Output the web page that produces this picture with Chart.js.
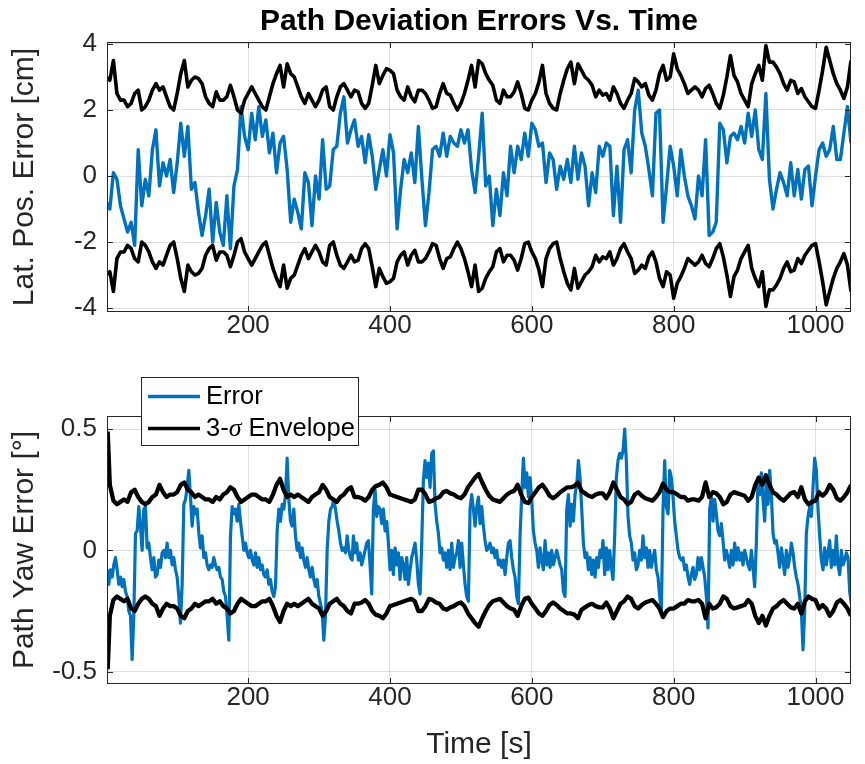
<!DOCTYPE html>
<html><head><meta charset="utf-8">
<script src="https://cdn.jsdelivr.net/npm/chart.js@4/dist/chart.umd.min.js"></script>
<style>
html,body{margin:0;padding:0;background:#fff;}
#wrap{position:relative;width:865px;height:764px;overflow:hidden;}
canvas{position:absolute;left:0;}
#c1{top:0;}
#c2{top:340px;}
</style></head><body>
<div id="wrap"><canvas id="c1" width="865" height="340"></canvas><canvas id="c2" width="865" height="424"></canvas></div>
<script>
// sampling grid of the time axis [s] (lateral error and both envelopes)
const time = [2];
for (let s = 5; s <= 1050; s += 5) time.push(s);

const xTicks = [200, 400, 600, 800, 1000];
const latTicks = [-4, -2, 0, 2, 4];
const yawTicks = [-0.5, 0, 0.5];

// Lateral position error [cm]
const latError = [-0.8,
 -1.0, 0.1, -0.1, -0.9, -1.3, -1.7, -1.4, -2.1, 0.8, -0.9,
 -0.1, -0.6, 0.8, 1.4, -0.3, 0.4, 0.0, 0.5, -0.5, 0.4,
 1.6, 0.6, 1.5, -0.4, -0.2, -1.1, -1.8, -1.2, -0.4, -2.0,
 -0.8, -1.7, -2.1, -0.6, -2.2, -0.3, 0.2, 2.1, 1.2, 0.8,
 1.9, 1.1, 2.1, 1.2, 1.7, 0.7, 1.3, 0.1, 1.0, 1.2,
 0.2, -1.4, -0.7, -1.1, -1.6, 0.1, -0.2, -1.5, 0.0, -0.7,
 1.1, -0.4, -0.3, 0.8, 0.9, 1.9, 2.4, 1.0, 1.4, 1.7,
 0.9, 1.2, 0.4, 1.25, 0.6, -0.4, 0.2, 0.8, 0.0, 1.25,
 0.7, -1.6, -0.4, 0.5, 0.1, 0.7, -0.2, 1.5, -0.1, -1.5,
 -0.5, 0.8, 0.9, 0.6, 1.3, 0.6, 1.2, 1.0, 0.9, 1.4,
 1.0, 1.4, 0.2, -0.5, 0.6, 1.9, -0.3, 0.0, -1.5, -0.4,
 -1.2, 0.1, -0.6, 0.9, 0.1, 0.9, 0.5, 1.3, 0.6, 1.6,
 1.4, 0.9, 1.0, -0.2, 0.7, 0.5, -0.4, 0.3, -0.1, 0.5,
 -0.2, 0.9, -0.1, 0.7, 0.3, -0.9, 0.1, -0.5, 0.9, 0.6,
 1.0, 0.9, -1.2, 0.3, -1.4, 0.8, 1.1, 0.1, 2.0, 2.6,
 1.3, 0.9, 0.2, -0.6, 1.9, 2.0, -1.4, -0.3, 0.9, 0.3,
 -0.6, 0.8, 0.0, -0.6, -0.9, -1.3, 0.0, -0.6, 1.1, -1.8,
 -1.7, -1.4, 1.6, 1.4, 0.4, 1.2, 1.3, 1.1, 1.5, 1.0,
 1.9, 1.2, 2.0, 0.8, 0.5, 2.5, -0.1, -1.0, -0.4, 0.1,
 -0.2, -0.6, 0.4, -0.6, 0.2, -0.7, 0.2, 0.3, -0.9, 0.0,
 0.8, 1.0, 0.6, 0.8, 1.5, 0.5, 0.5, 1.3, 2.1, 1.0];

// Lateral 3-sigma envelope (upper bound) [cm]
const latEnvelope = [3.0,
 2.9, 3.5, 2.5, 2.3, 2.3, 2.1, 2.2, 2.5, 2.6, 2.0,
 2.1, 2.3, 2.6, 2.8, 2.6, 2.7, 2.4, 2.1, 2.0, 2.5,
 3.1, 3.5, 2.7, 2.9, 3.0, 2.95, 2.8, 2.4, 2.2, 2.1,
 2.55, 2.3, 2.3, 2.4, 2.75, 2.4, 2.0, 1.9, 2.3, 2.5,
 2.7, 2.5, 2.3, 2.1, 2.0, 2.4, 2.8, 3.1, 3.35, 2.7,
 3.4, 3.1, 3.0, 2.7, 2.4, 2.2, 2.5, 2.3, 2.1, 2.3,
 2.6, 2.7, 2.1, 2.0, 2.4, 2.7, 2.8, 2.6, 2.4, 2.6,
 2.55, 2.2, 2.05, 2.2, 2.75, 3.35, 2.8, 3.05, 3.25, 3.2,
 3.1, 2.6, 2.4, 2.3, 2.7, 2.4, 2.25, 2.6, 2.6, 2.5,
 2.3, 2.05, 2.1, 2.5, 2.8, 2.5, 2.45, 2.2, 2.0, 2.2,
 2.5, 2.9, 3.35, 2.7, 3.5, 3.4, 3.1, 2.9, 2.75, 2.3,
 2.2, 2.6, 2.4, 2.4, 2.55, 2.85, 2.5, 2.05, 2.0, 2.3,
 2.5, 2.85, 3.35, 2.5, 2.2, 2.05, 2.0, 2.5, 2.9, 3.25,
 3.45, 2.8, 3.4, 3.2, 3.0, 2.9, 2.75, 2.4, 2.6, 2.45,
 2.5, 2.3, 2.7, 2.5, 2.2, 2.05, 2.3, 2.5, 2.95, 2.85,
 2.7, 2.8, 2.45, 2.3, 2.6, 3.1, 3.35, 2.9, 3.0, 3.7,
 3.25, 3.05, 2.8, 2.5, 2.6, 2.7, 2.6, 2.4, 2.65, 2.75,
 2.5, 2.2, 2.05, 2.45, 3.0, 3.65, 3.05, 2.85, 2.5, 2.3,
 2.1, 2.8, 3.1, 3.35, 2.9, 3.95, 3.45, 3.45, 3.3, 3.1,
 2.8, 2.6, 2.9, 2.85, 2.5, 2.65, 2.4, 2.25, 2.1, 2.05,
 2.6, 3.2, 3.9, 3.5, 3.1, 2.8, 2.6, 2.35, 2.7, 3.5];

// Path yaw error [deg], read in three stretches sampled every 2.35 s
const yawStep = 2.35;
const yawStarts = [1.2, 348.4, 698.0];
const yawError1 = [
 -0.08, -0.14, -0.08, -0.11, -0.06, -0.03, -0.08, -0.14, -0.11, -0.15,
 -0.12, -0.17, -0.19, -0.25, -0.27, -0.45, -0.27, 0.07, 0.08, 0.18,
 0.10, 0.00, 0.17, 0.18, 0.01, 0.03, -0.03, -0.08, -0.03, -0.11,
 -0.10, -0.04, -0.07, -0.01, 0.00, -0.03, 0.03, -0.03, 0.00, -0.06,
 -0.03, -0.08, -0.11, -0.19, -0.30, -0.14, 0.19, 0.21, 0.26, 0.33,
 0.22, 0.10, 0.18, 0.15, 0.17, 0.07, 0.01, 0.06, -0.03, -0.01,
 -0.06, -0.08, -0.06, -0.07, -0.03, -0.06, -0.08, -0.07, -0.11, -0.12,
 -0.17, -0.19, -0.27, -0.37, 0.06, 0.18, 0.15, 0.17, 0.12, 0.19,
 0.12, 0.06, 0.00, 0.03, -0.01, -0.03, 0.00, -0.04, -0.06, -0.01,
 -0.07, -0.03, -0.08, -0.06, -0.10, -0.11, -0.08, -0.14, -0.12, -0.17,
 -0.19, -0.15, 0.08, 0.17, 0.12, 0.19, 0.17, 0.23, 0.38, 0.21,
 0.12, 0.10, 0.17, 0.06, 0.00, 0.03, -0.03, 0.01, -0.04, -0.07,
 -0.03, -0.08, -0.11, -0.07, -0.12, -0.15, -0.12, -0.19, -0.22, -0.25,
 -0.37, -0.27, 0.00, 0.12, 0.17, 0.18, 0.21, 0.17, 0.12, 0.08,
 0.03, 0.00, 0.01, -0.01, 0.06, 0.00, -0.03, -0.04];
const yawError2 = [
 0.06, -0.01, 0.03, -0.04, -0.01, -0.06, -0.03, 0.00, 0.03, 0.04,
 -0.06, -0.18, 0.17, 0.25, 0.14, 0.18, 0.17, 0.11, 0.17, 0.08,
 0.12, 0.03, -0.08, 0.00, -0.10, 0.01, -0.06, -0.01, -0.12, -0.03,
 -0.06, -0.12, -0.03, -0.14, -0.08, -0.03, 0.00, 0.03, -0.04, -0.14,
 -0.18, 0.03, 0.29, 0.37, 0.30, 0.36, 0.26, 0.40, 0.41, 0.19,
 0.12, 0.07, -0.01, 0.01, -0.04, -0.01, -0.07, 0.00, -0.08, 0.03,
 -0.07, -0.03, -0.01, 0.04, -0.07, 0.03, -0.06, -0.14, -0.19, -0.21,
 0.17, 0.23, 0.17, 0.10, 0.18, 0.22, 0.11, 0.18, 0.10, 0.04,
 0.00, 0.01, 0.03, -0.01, 0.01, -0.03, 0.00, -0.06, -0.04, -0.07,
 -0.04, -0.10, -0.03, 0.03, 0.04, -0.03, -0.08, -0.11, -0.19, -0.22,
 0.06, 0.23, 0.38, 0.26, 0.32, 0.22, 0.30, 0.21, 0.08, 0.03,
 0.00, -0.07, 0.01, -0.04, -0.08, 0.04, -0.06, -0.01, -0.07, 0.00,
 -0.06, -0.03, 0.00, -0.03, -0.06, -0.08, -0.17, -0.19, 0.17, 0.23,
 0.10, 0.19, 0.12, 0.23, 0.27, 0.37, 0.30, 0.17, 0.03, -0.03,
 -0.01, -0.08, -0.03, -0.10, -0.04, -0.11, -0.03, -0.07, 0.00];
const yawError3 = [
 -0.03, 0.04, -0.10, 0.01, -0.08, 0.00, -0.07, -0.12, 0.06, 0.30,
 0.37, 0.40, 0.38, 0.41, 0.50, 0.37, 0.14, 0.06, 0.03, -0.04,
 -0.01, -0.08, -0.06, 0.00, -0.04, 0.06, -0.03, 0.01, -0.07, 0.00,
 -0.07, -0.03, 0.00, -0.08, -0.11, -0.19, -0.25, 0.17, 0.37, 0.18,
 0.15, 0.33, 0.30, 0.22, 0.12, 0.06, 0.00, -0.03, -0.04, -0.03,
 -0.08, -0.06, -0.11, -0.14, -0.10, -0.07, -0.12, -0.10, -0.03, -0.08,
 -0.03, -0.07, -0.11, -0.19, -0.32, 0.17, 0.22, 0.12, 0.21, 0.15,
 0.08, 0.06, 0.11, 0.04, -0.04, 0.00, -0.03, -0.07, 0.00, -0.06,
 0.03, -0.04, 0.01, -0.04, -0.01, -0.06, 0.00, -0.03, -0.06, -0.08,
 0.00, -0.07, -0.15, 0.03, 0.30, 0.23, 0.32, 0.21, 0.12, 0.30,
 0.19, 0.33, 0.23, 0.07, 0.03, 0.04, -0.01, -0.07, 0.01, -0.04,
 -0.10, 0.00, -0.07, -0.03, 0.03, -0.01, -0.07, -0.11, -0.14, -0.19,
 -0.25, -0.41, -0.25, 0.07, 0.14, 0.18, 0.14, 0.26, 0.38, 0.33,
 0.17, 0.06, -0.04, -0.08, 0.01, -0.06, -0.01, 0.04, -0.07, 0.00,
 -0.06, 0.06, -0.06, -0.10, 0.00, -0.06, -0.04, -0.01, -0.03, -0.17,
 -0.22];

// Yaw 3-sigma envelope (upper bound) [deg]
const yawEnvelope = [0.49,
 0.27, 0.205, 0.19, 0.2, 0.21, 0.2, 0.24, 0.25, 0.22, 0.2,
 0.19, 0.2, 0.22, 0.23, 0.27, 0.24, 0.22, 0.23, 0.23, 0.24,
 0.27, 0.28, 0.25, 0.24, 0.22, 0.23, 0.22, 0.21, 0.21, 0.2,
 0.22, 0.21, 0.23, 0.24, 0.26, 0.25, 0.22, 0.2, 0.21, 0.22,
 0.23, 0.23, 0.22, 0.21, 0.21, 0.2, 0.23, 0.27, 0.295, 0.25,
 0.22, 0.23, 0.22, 0.23, 0.22, 0.21, 0.2, 0.22, 0.23, 0.24,
 0.27, 0.25, 0.22, 0.21, 0.2, 0.22, 0.23, 0.25, 0.26, 0.22,
 0.22, 0.215, 0.205, 0.22, 0.25, 0.265, 0.27, 0.28, 0.26, 0.23,
 0.225, 0.22, 0.215, 0.21, 0.205, 0.2, 0.21, 0.25, 0.25, 0.23,
 0.2, 0.205, 0.215, 0.22, 0.24, 0.245, 0.235, 0.23, 0.22, 0.215,
 0.23, 0.26, 0.28, 0.3, 0.315, 0.28, 0.25, 0.225, 0.21, 0.205,
 0.2, 0.215, 0.23, 0.24, 0.245, 0.27, 0.23, 0.2, 0.195, 0.22,
 0.24, 0.26, 0.27, 0.25, 0.225, 0.215, 0.225, 0.24, 0.25, 0.26,
 0.26, 0.265, 0.28, 0.245, 0.235, 0.225, 0.22, 0.23, 0.235, 0.235,
 0.215, 0.24, 0.28, 0.25, 0.22, 0.21, 0.19, 0.2, 0.23, 0.24,
 0.225, 0.215, 0.21, 0.205, 0.22, 0.24, 0.275, 0.25, 0.24, 0.24,
 0.23, 0.22, 0.22, 0.205, 0.21, 0.21, 0.205, 0.22, 0.28, 0.22,
 0.24, 0.235, 0.22, 0.19, 0.2, 0.23, 0.24, 0.235, 0.23, 0.225,
 0.205, 0.22, 0.27, 0.3, 0.27, 0.31, 0.27, 0.24, 0.23, 0.215,
 0.205, 0.22, 0.235, 0.24, 0.22, 0.26, 0.21, 0.19, 0.2, 0.205,
 0.24, 0.225, 0.24, 0.27, 0.25, 0.215, 0.205, 0.22, 0.24, 0.27];

const BLUE = '#0072BD';
const AXIS = '#262626';
const FONT = '"Liberation Sans", Arial, Helvetica, sans-serif';

function pts(values, sign) {
  return time.map((t, i) => ({ x: t, y: sign * values[i] }));
}
function segPts(segments) {
  const out = [];
  segments.forEach((vals, s) => {
    vals.forEach((v, k) => out.push({ x: yawStarts[s] + k * yawStep, y: v }));
  });
  return out;
}

const boxPlugin = {
  id: 'matlabBox',
  afterDraw(chart) {
    const { ctx, chartArea: a, scales: { x, y } } = chart;
    ctx.save();
    ctx.strokeStyle = AXIS;
    ctx.lineWidth = 1;
    ctx.beginPath();
    x.ticks.forEach(t => {
      const px = Math.round(x.getPixelForValue(t.value)) + 0.5;
      ctx.moveTo(px, a.bottom); ctx.lineTo(px, a.bottom - 6);
      ctx.moveTo(px, a.top); ctx.lineTo(px, a.top + 6);
    });
    y.ticks.forEach(t => {
      const py = Math.round(y.getPixelForValue(t.value)) + 0.5;
      ctx.moveTo(a.left, py); ctx.lineTo(a.left + 6, py);
      ctx.moveTo(a.right, py); ctx.lineTo(a.right - 6, py);
    });
    ctx.stroke();
    ctx.strokeRect(a.left + 0.5, a.top + 0.5, a.right - a.left - 1, a.bottom - a.top - 1);
    ctx.restore();
  }
};

const titlePlugin = {
  id: 'figTitle',
  afterDraw(chart) {
    const { ctx, chartArea: a } = chart;
    ctx.save();
    ctx.fillStyle = '#000';
    ctx.font = 'bold 30px ' + FONT;
    ctx.textAlign = 'center';
    ctx.textBaseline = 'alphabetic';
    ctx.fillText('Path Deviation Errors Vs. Time', (a.left + a.right) / 2, 30);
    ctx.restore();
  }
};

const legendPlugin = {
  id: 'figLegend',
  afterDraw(chart) {
    const ctx = chart.ctx;
    const bx = 141, by = 37, bw = 218, bh = 69;
    ctx.save();
    ctx.fillStyle = '#fff';
    ctx.fillRect(bx, by, bw, bh);
    ctx.strokeStyle = AXIS;
    ctx.lineWidth = 1;
    ctx.strokeRect(bx + 0.5, by + 0.5, bw - 1, bh - 1);
    const items = [
      { color: chart.data.datasets[2].borderColor, y: 56.5 },
      { color: chart.data.datasets[0].borderColor, y: 88.5 }
    ];
    items.forEach(it => {
      ctx.strokeStyle = it.color;
      ctx.lineWidth = 3.5;
      ctx.beginPath();
      ctx.moveTo(148, it.y); ctx.lineTo(200, it.y);
      ctx.stroke();
    });
    ctx.fillStyle = '#000';
    ctx.textBaseline = 'middle';
    ctx.textAlign = 'left';
    ctx.font = '25.5px ' + FONT;
    ctx.fillText('Error', 206, 57);
    let x = 206;
    ctx.fillText('3-', x, 89);
    x += ctx.measureText('3-').width;
    ctx.font = 'italic 26px "Liberation Serif", "DejaVu Serif", serif';
    ctx.fillText('σ', x, 89);
    x += ctx.measureText('σ').width;
    ctx.font = '25.5px ' + FONT;
    ctx.fillText(' Envelope', x, 89);
    ctx.restore();
  }
};

function makeChart(canvasId, cfg) {
  const datasets = [
    { label: '3-σ Envelope', data: pts(cfg.env, 1), borderColor: '#000', borderWidth: cfg.envWidth, pointRadius: 0, tension: 0, borderJoinStyle: 'round', order: 0 },
    { label: '3-σ Envelope (lower)', data: pts(cfg.env, -1), borderColor: '#000', borderWidth: cfg.envWidth, pointRadius: 0, tension: 0, borderJoinStyle: 'round', order: 0 },
    { label: 'Error', data: cfg.errPts, borderColor: BLUE, borderWidth: cfg.errWidth, pointRadius: 0, tension: 0, borderJoinStyle: 'round', order: 1 }
  ];
  return new Chart(document.getElementById(canvasId), {
    type: 'line',
    data: { datasets },
    plugins: cfg.plugins,
    options: {
      responsive: false,
      animation: false,
      devicePixelRatio: 1,
      layout: { padding: { top: cfg.top, right: 14, left: 0, bottom: 0 } },
      plugins: { legend: { display: false }, tooltip: { enabled: false }, title: { display: false } },
      scales: {
        x: {
          type: 'linear',
          min: 1, max: 1050,
          afterBuildTicks: s => { s.ticks = xTicks.map(v => ({ value: v })); },
          afterFit: s => { s.height = cfg.xh; },
          grid: { color: 'rgba(38,38,38,0.15)', lineWidth: 1, drawTicks: false },
          border: { display: false },
          ticks: { color: AXIS, font: { family: FONT, size: 26, lineHeight: 1 }, padding: 1, maxRotation: 0, autoSkip: false, callback: v => String(v) },
          title: cfg.xTitle ? { display: true, text: cfg.xTitle, color: AXIS, font: { family: FONT, size: 30, lineHeight: 1 }, padding: { top: 0, bottom: 4 } } : { display: false }
        },
        y: {
          type: 'linear',
          min: cfg.ymin, max: cfg.ymax,
          afterBuildTicks: s => { s.ticks = cfg.yTicks.map(v => ({ value: v })); },
          afterFit: s => { s.width = 107; },
          grid: { color: 'rgba(38,38,38,0.15)', lineWidth: 1, drawTicks: false },
          border: { display: false },
          ticks: { color: AXIS, font: { family: FONT, size: 26, lineHeight: 1 }, padding: 10, callback: v => String(v) },
          title: { display: true, text: cfg.yTitle, color: AXIS, font: { family: FONT, size: 30, lineHeight: 1 }, padding: { top: 10, bottom: 0 } }
        }
      }
    }
  });
}

makeChart('c1', {
  env: latEnvelope, envWidth: 3.6, errPts: pts(latError, 1), errWidth: 3.4, top: 42, xh: 28,
  ymin: -4.12, ymax: 4.06, yTicks: latTicks,
  yTitle: 'Lat. Pos. Error [cm]', xTitle: null,
  plugins: [boxPlugin, titlePlugin]
});

makeChart('c2', {
  env: yawEnvelope, envWidth: 4.3, errPts: segPts([yawError1, yawError2, yawError3]), errWidth: 3.2, top: 76, xh: 80,
  ymin: -0.551, ymax: 0.554, yTicks: yawTicks,
  yTitle: 'Path Yaw Error [°]', xTitle: 'Time [s]',
  plugins: [boxPlugin, legendPlugin]
});
</script>
</body></html>
